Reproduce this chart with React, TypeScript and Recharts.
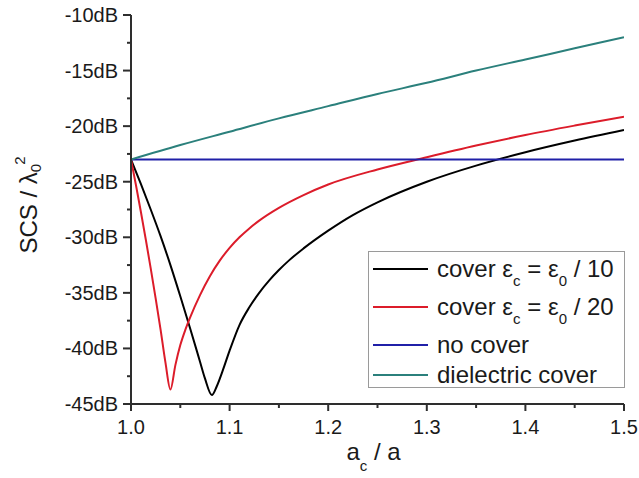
import { LineChart, Line, XAxis, YAxis, Legend } from 'recharts'

const FONT = '"Liberation Sans", Arial, sans-serif'
const AXIS = '#2e2e2e'
const INK = '#1a1a1a'

// a_c / a and SCS (dB)
const tenthRatio = [1.0, 1.01, 1.02, 1.03, 1.04, 1.05, 1.06, 1.07, 1.075, 1.082, 1.087, 1.093, 1.1, 1.11, 1.12, 1.13, 1.14, 1.15, 1.16, 1.175, 1.2, 1.225, 1.25, 1.3, 1.35, 1.4, 1.45, 1.5]
const tenthDb = [-23, -25.2, -27.5, -29.9, -32.5, -35.3, -38.2, -41.2, -42.7, -44.2, -43.4, -42.0, -40.2, -37.9, -36.3, -35.0, -33.9, -32.95, -32.1, -31.0, -29.4, -28.0, -26.85, -25.0, -23.55, -22.35, -21.3, -20.35]

const twentiethRatio = [1.0, 1.005, 1.01, 1.015, 1.02, 1.025, 1.03, 1.035, 1.04, 1.045, 1.05, 1.055, 1.06, 1.07, 1.08, 1.09, 1.1, 1.11, 1.12, 1.13, 1.15, 1.175, 1.2, 1.25, 1.3, 1.35, 1.4, 1.45, 1.5]
const twentiethDb = [-23, -25.3, -27.7, -30.2, -32.8, -35.5, -38.3, -41.3, -43.7, -41.5, -39.7, -38.35, -37.2, -35.2, -33.5, -32.1, -30.95, -30.0, -29.2, -28.5, -27.35, -26.2, -25.25, -23.9, -22.8, -21.75, -20.8, -19.95, -19.15]

const noCoverRatio = [1.0, 1.5]
const noCoverDb = [-23, -23]

const dielectricRatio = [1.0, 1.05, 1.1, 1.15, 1.2, 1.25, 1.3, 1.35, 1.4, 1.45, 1.5]
const dielectricDb = [-23, -21.7, -20.5, -19.3, -18.2, -17.1, -16.1, -15.0, -14.0, -13.0, -12.0]

const seriesNames = ['cover εc = ε0 / 10', 'cover εc = ε0 / 20', 'no cover', 'dielectric cover']
const seriesColors = ['#000000', '#dc1c2a', '#2020a8', '#2b807c']

const xMajorTicks = [1.0, 1.1, 1.2, 1.3, 1.4, 1.5]
const xMinorTicks = [1.05, 1.15, 1.25, 1.35, 1.45]
const yMajorTicks = [-45, -40, -35, -30, -25, -20, -15, -10]
const yMinorTicks = [-42.5, -37.5, -32.5, -27.5, -22.5, -17.5, -12.5]

const toPoints = (xs: number[], ys: number[]) => xs.map((x, i) => ({ x, db: ys[i] }))
const series = [
  toPoints(tenthRatio, tenthDb),
  toPoints(twentiethRatio, twentiethDb),
  toPoints(noCoverRatio, noCoverDb),
  toPoints(dielectricRatio, dielectricDb),
]

const isMajor = (list: number[], v: number) => list.some((m) => Math.abs(m - v) < 1e-6)

function XTick({ x, y, payload }: any) {
  const major = isMajor(xMajorTicks, payload.value)
  return (
    <g>
      <line x1={x} x2={x} y1={y} y2={y + (major ? 7 : 4)} stroke={AXIS} strokeWidth={2} />
      {major && (
        <text x={x} y={y + 30} textAnchor="middle" fontSize={20} fontFamily={FONT} fill={INK}>
          {payload.value.toFixed(1)}
        </text>
      )}
    </g>
  )
}

function YTick({ x, y, payload }: any) {
  const major = isMajor(yMajorTicks, payload.value)
  return (
    <g>
      <line x1={x - (major ? 8 : 4)} x2={x} y1={y} y2={y} stroke={AXIS} strokeWidth={2} />
      {major && (
        <text x={x - 13} y={y + 7} textAnchor="end" fontSize={20} fontFamily={FONT} fill={INK}>
          {payload.value}dB
        </text>
      )}
    </g>
  )
}

function XTitle({ viewBox }: any) {
  const cx = viewBox.x + viewBox.width / 2 - 4
  const by = viewBox.y + 56
  return (
    <text x={cx} y={by} textAnchor="middle" fontSize={24} fontFamily={FONT} fill={INK}>
      a<tspan fontSize={15} dy={11}>c</tspan>
      <tspan dy={-11}> / a</tspan>
    </text>
  )
}

function YTitle() {
  const cx = 37
  const cy = 205
  return (
    <text x={cx} y={cy} transform={`rotate(-90 ${cx} ${cy})`} textAnchor="middle" fontSize={24} fontFamily={FONT} fill={INK}>
      SCS / λ<tspan fontSize={15} dy={4}>0</tspan>
      <tspan fontSize={15} dy={-16} dx={-1}>2</tspan>
    </text>
  )
}

// the character after each ε is drawn as a subscript
function richName(name: string) {
  const parts: { text: string; sub: boolean }[] = []
  let buf = ''
  for (let i = 0; i < name.length; i++) {
    if (name[i] === 'ε' && i + 1 < name.length) {
      parts.push({ text: buf + 'ε', sub: false })
      parts.push({ text: name[i + 1], sub: true })
      buf = ''
      i++
    } else {
      buf += name[i]
    }
  }
  if (buf) parts.push({ text: buf, sub: false })
  return parts.map((p, k) => {
    const afterSub = k > 0 && parts[k - 1].sub
    return p.sub ? (
      <tspan key={k} fontSize={15} dy={9}>{p.text}</tspan>
    ) : (
      <tspan key={k} dy={afterSub ? -9 : 0}>{p.text}</tspan>
    )
  })
}

const rowCenters = [18, 56, 94, 124]

function LegendBox() {
  return (
    <svg width={257} height={137} style={{ display: 'block' }}>
      <rect x={0.5} y={0.5} width={256} height={136} fill="#fff" stroke="#9a9a9a" strokeWidth={1} />
      {seriesNames.map((name, i) => (
        <g key={name}>
          <line x1={5} x2={60} y1={rowCenters[i]} y2={rowCenters[i]} stroke={seriesColors[i]} strokeWidth={2} />
          <text x={69} y={rowCenters[i] + 7.5} fontSize={24} fontFamily={FONT} fill={INK}>
            {richName(name)}
          </text>
        </g>
      ))}
    </svg>
  )
}

export default function App() {
  return (
    <div style={{ position: 'absolute', left: 0, top: 0, background: '#fff' }}>
      <LineChart width={639} height={478} margin={{ top: 15, right: 15, bottom: 0, left: 0 }}>
        <XAxis
          dataKey="x"
          type="number"
          domain={[1, 1.5]}
          allowDataOverflow
          ticks={[...xMajorTicks, ...xMinorTicks].sort((a, b) => a - b)}
          interval={0}
          tick={<XTick />}
          tickLine={false}
          tickSize={0}
          tickMargin={0}
          axisLine={{ stroke: AXIS, strokeWidth: 2 }}
          height={74}
          label={(p: any) => <XTitle viewBox={p.viewBox} />}
        />
        <YAxis
          type="number"
          domain={[-45, -10]}
          allowDataOverflow
          ticks={[...yMajorTicks, ...yMinorTicks].sort((a, b) => a - b)}
          interval={0}
          tick={<YTick />}
          tickLine={false}
          tickSize={0}
          tickMargin={0}
          axisLine={{ stroke: AXIS, strokeWidth: 2 }}
          width={131}
          label={() => <YTitle />}
        />
        <Legend
          layout="vertical"
          align="center"
          verticalAlign="middle"
          content={<LegendBox />}
          wrapperStyle={{ left: 368, top: 251, width: 257, height: 137 }}
        />
        {series.map((pts, i) => (
          <Line
            key={seriesNames[i]}
            data={pts}
            dataKey="db"
            name={seriesNames[i]}
            type="monotone"
            stroke={seriesColors[i]}
            strokeWidth={2}
            dot={false}
            isAnimationActive={false}
          />
        ))}
      </LineChart>
    </div>
  )
}
